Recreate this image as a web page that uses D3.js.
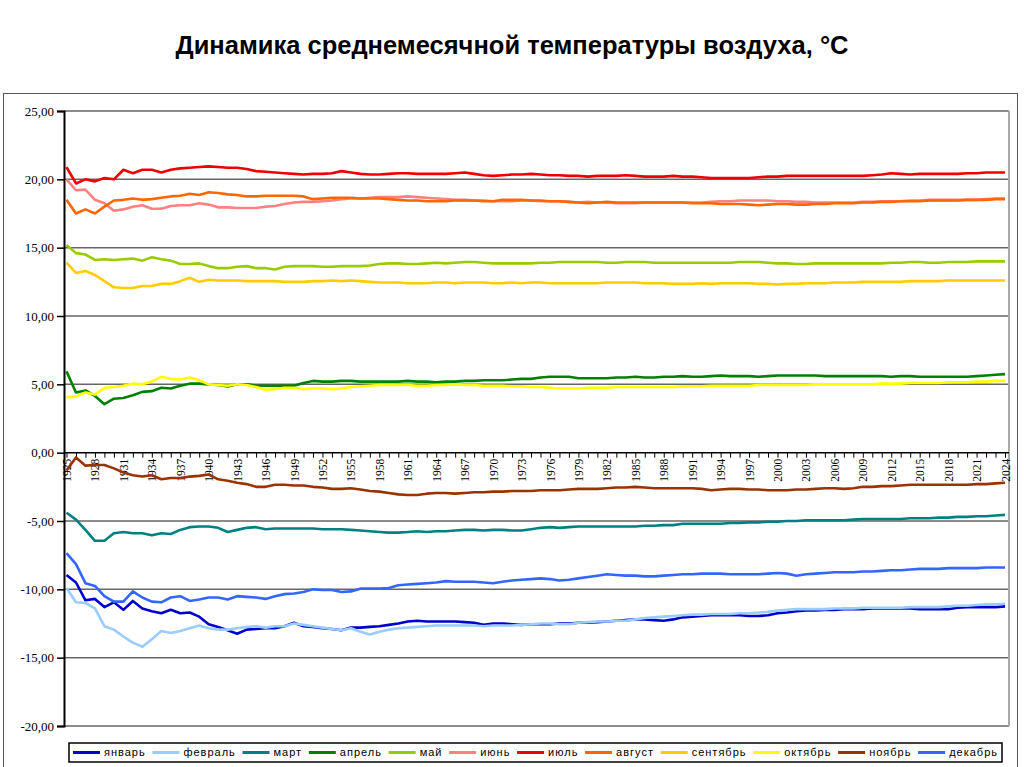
<!DOCTYPE html>
<html>
<head>
<meta charset="utf-8">
<script src="https://cdn.jsdelivr.net/npm/d3@7"></script>
<style>
  body { margin: 0; background: #fff; }
  svg { display: block; }
</style>
</head>
<body>
<div id="chart"></div>
<script>
let w = 1024;
let h = 767;

// years 1925..2024
let years = d3.range(1925, 2025);

let months = ["январь", "февраль", "март", "апрель", "май", "июнь", "июль", "август", "сентябрь", "октябрь", "ноябрь", "декабрь"];
let colors = ["#0000cc", "#99ccff", "#008080", "#008000", "#99cc00", "#ff8080", "#ee0000", "#ff6600", "#ffcc00", "#ffff00", "#993300", "#3366ff"];

let yTicks = [25, 20, 15, 10, 5, 0, -5, -10, -15, -20];

let jan = [
  -8.95, -9.5, -10.8, -10.7, -11.3, -10.95, -11.5, -10.85, -11.4, -11.6,
  -11.75, -11.5, -11.75, -11.7, -12.0, -12.55, -12.75, -13.0, -13.25, -12.95,
  -12.9, -12.85, -12.85, -12.7, -12.45, -12.7, -12.75, -12.85, -12.9, -13.0,
  -12.8, -12.8, -12.75, -12.7, -12.6, -12.5, -12.35, -12.3, -12.35, -12.35,
  -12.35, -12.35, -12.4, -12.45, -12.6, -12.5, -12.5, -12.55, -12.6, -12.55,
  -12.55, -12.55, -12.5, -12.5, -12.45, -12.45, -12.4, -12.35, -12.3, -12.25,
  -12.2, -12.2, -12.25, -12.3, -12.2, -12.05, -12.0, -11.95, -11.9, -11.9,
  -11.9, -11.9, -11.95, -11.95, -11.9, -11.75, -11.7, -11.6, -11.55, -11.55,
  -11.5, -11.5, -11.45, -11.45, -11.45, -11.4, -11.4, -11.4, -11.4, -11.4,
  -11.45, -11.45, -11.45, -11.45, -11.35, -11.3, -11.3, -11.3, -11.3, -11.25
];
let feb = [
  -9.9, -10.95, -11.0, -11.4, -12.7, -12.95, -13.45, -13.9, -14.2, -13.65,
  -13.05, -13.2, -13.05, -12.85, -12.65, -12.85, -12.95, -12.95, -12.85, -12.75,
  -12.7, -12.8, -12.7, -12.7, -12.5, -12.6, -12.7, -12.8, -12.9, -13.0,
  -12.85, -13.1, -13.3, -13.1, -12.95, -12.85, -12.8, -12.75, -12.7, -12.65,
  -12.65, -12.65, -12.65, -12.65, -12.7, -12.65, -12.65, -12.65, -12.6, -12.55,
  -12.5, -12.5, -12.55, -12.55, -12.45, -12.4, -12.35, -12.35, -12.3, -12.3,
  -12.2, -12.1, -12.05, -12.0, -11.95, -11.9, -11.85, -11.85, -11.8, -11.8,
  -11.8, -11.75, -11.75, -11.7, -11.65, -11.55, -11.5, -11.45, -11.45, -11.45,
  -11.45, -11.4, -11.4, -11.4, -11.35, -11.35, -11.35, -11.35, -11.35, -11.3,
  -11.3, -11.3, -11.3, -11.25, -11.2, -11.2, -11.15, -11.1, -11.1, -11.05
];
let mar = [
  -4.4, -4.9, -5.65, -6.45, -6.45, -5.9, -5.8, -5.9, -5.9, -6.05,
  -5.9, -5.95, -5.65, -5.45, -5.4, -5.4, -5.5, -5.8, -5.65, -5.5,
  -5.45, -5.6, -5.55, -5.55, -5.55, -5.55, -5.55, -5.6, -5.6, -5.6,
  -5.65, -5.7, -5.75, -5.8, -5.85, -5.85, -5.8, -5.75, -5.8, -5.75,
  -5.75, -5.7, -5.65, -5.65, -5.7, -5.65, -5.65, -5.7, -5.7, -5.6,
  -5.5, -5.45, -5.5, -5.45, -5.4, -5.4, -5.4, -5.4, -5.4, -5.4,
  -5.4, -5.35, -5.35, -5.3, -5.3, -5.2, -5.2, -5.2, -5.2, -5.2,
  -5.15, -5.15, -5.1, -5.1, -5.05, -5.05, -5.0, -5.0, -4.95, -4.95,
  -4.95, -4.95, -4.95, -4.9, -4.85, -4.85, -4.85, -4.85, -4.85, -4.8,
  -4.8, -4.8, -4.75, -4.75, -4.7, -4.7, -4.65, -4.65, -4.6, -4.55
];
let apr = [
  5.95, 4.4, 4.55, 4.15, 3.55, 3.95, 4.0, 4.2, 4.45, 4.5,
  4.75, 4.7, 4.9, 5.05, 5.05, 5.0, 4.95, 4.85, 5.0, 5.0,
  4.9, 4.9, 4.9, 4.9, 4.9, 5.1, 5.25, 5.2, 5.2, 5.25,
  5.25, 5.2, 5.2, 5.2, 5.2, 5.2, 5.25, 5.2, 5.2, 5.15,
  5.2, 5.2, 5.25, 5.25, 5.3, 5.3, 5.3, 5.35, 5.4, 5.4,
  5.5, 5.55, 5.55, 5.55, 5.45, 5.45, 5.45, 5.45, 5.5, 5.5,
  5.55, 5.5, 5.5, 5.55, 5.55, 5.6, 5.55, 5.55, 5.6, 5.65,
  5.6, 5.6, 5.6, 5.55, 5.6, 5.65, 5.65, 5.65, 5.65, 5.65,
  5.6, 5.6, 5.6, 5.6, 5.6, 5.6, 5.6, 5.55, 5.6, 5.6,
  5.55, 5.55, 5.55, 5.55, 5.55, 5.55, 5.6, 5.65, 5.7, 5.75
];
let may = [
  15.2, 14.6, 14.5, 14.1, 14.15, 14.1, 14.15, 14.2, 14.05, 14.3,
  14.15, 14.05, 13.8, 13.8, 13.85, 13.65, 13.5, 13.5, 13.6, 13.65,
  13.5, 13.5, 13.4, 13.6, 13.65, 13.65, 13.65, 13.6, 13.6, 13.65,
  13.65, 13.65, 13.7, 13.8, 13.85, 13.85, 13.8, 13.8, 13.85, 13.9,
  13.85, 13.9, 13.95, 13.95, 13.9, 13.85, 13.85, 13.85, 13.85, 13.85,
  13.9, 13.9, 13.95, 13.95, 13.95, 13.95, 13.95, 13.9, 13.9, 13.95,
  13.95, 13.95, 13.9, 13.9, 13.9, 13.9, 13.9, 13.9, 13.9, 13.9,
  13.9, 13.95, 13.95, 13.95, 13.9, 13.85, 13.85, 13.8, 13.8, 13.85,
  13.85, 13.85, 13.85, 13.85, 13.85, 13.85, 13.85, 13.9, 13.9, 13.95,
  13.95, 13.9, 13.9, 13.95, 13.95, 13.95, 14.0, 14.0, 14.0, 14.0
];
let jun = [
  20.0, 19.2, 19.25, 18.5, 18.25, 17.7, 17.8, 18.0, 18.1, 17.85,
  17.85, 18.05, 18.1, 18.1, 18.25, 18.15, 17.95, 17.95, 17.9, 17.9,
  17.9, 18.0, 18.05, 18.2, 18.3, 18.35, 18.35, 18.4, 18.45, 18.55,
  18.6, 18.6, 18.65, 18.7, 18.7, 18.7, 18.75, 18.7, 18.65, 18.6,
  18.55, 18.5, 18.5, 18.45, 18.45, 18.4, 18.4, 18.4, 18.45, 18.45,
  18.4, 18.4, 18.4, 18.35, 18.3, 18.35, 18.3, 18.3, 18.25, 18.25,
  18.25, 18.3, 18.3, 18.3, 18.3, 18.3, 18.3, 18.3, 18.35, 18.4,
  18.4, 18.45, 18.45, 18.45, 18.45, 18.4, 18.4, 18.35, 18.35, 18.3,
  18.3, 18.3, 18.3, 18.3, 18.35, 18.35, 18.4, 18.4, 18.4, 18.45,
  18.45, 18.5, 18.5, 18.5, 18.5, 18.5, 18.5, 18.55, 18.6, 18.6
];
let jul = [
  20.9, 19.7, 20.0, 19.85, 20.1, 20.0, 20.7, 20.45, 20.7, 20.7,
  20.5, 20.7, 20.8, 20.85, 20.9, 20.95, 20.9, 20.85, 20.85, 20.75,
  20.6, 20.55, 20.5, 20.45, 20.4, 20.35, 20.4, 20.4, 20.45, 20.6,
  20.5, 20.4, 20.35, 20.35, 20.4, 20.45, 20.45, 20.4, 20.4, 20.4,
  20.4, 20.45, 20.5, 20.4, 20.3, 20.25, 20.3, 20.35, 20.35, 20.4,
  20.35, 20.3, 20.3, 20.25, 20.25, 20.2, 20.25, 20.25, 20.25, 20.3,
  20.25, 20.2, 20.2, 20.2, 20.25, 20.2, 20.2, 20.15, 20.1, 20.1,
  20.1, 20.1, 20.1, 20.15, 20.2, 20.2, 20.25, 20.25, 20.25, 20.25,
  20.25, 20.25, 20.25, 20.25, 20.25, 20.3, 20.35, 20.45, 20.4, 20.35,
  20.4, 20.4, 20.4, 20.4, 20.4, 20.45, 20.45, 20.5, 20.5, 20.5
];
let aug = [
  18.5, 17.5, 17.8, 17.5, 18.0, 18.45, 18.5, 18.6, 18.5, 18.55,
  18.65, 18.75, 18.8, 18.95, 18.85, 19.05, 19.0, 18.9, 18.85, 18.75,
  18.75, 18.8, 18.8, 18.8, 18.8, 18.75, 18.55, 18.6, 18.65, 18.65,
  18.65, 18.6, 18.6, 18.6, 18.55, 18.5, 18.45, 18.45, 18.4, 18.4,
  18.4, 18.45, 18.45, 18.45, 18.4, 18.4, 18.5, 18.5, 18.5, 18.45,
  18.45, 18.4, 18.4, 18.35, 18.3, 18.25, 18.3, 18.35, 18.3, 18.3,
  18.3, 18.3, 18.3, 18.3, 18.3, 18.3, 18.25, 18.25, 18.25, 18.2,
  18.2, 18.2, 18.15, 18.1, 18.15, 18.2, 18.2, 18.15, 18.15, 18.2,
  18.2, 18.25, 18.25, 18.25, 18.3, 18.3, 18.35, 18.35, 18.4, 18.4,
  18.4, 18.45, 18.45, 18.45, 18.45, 18.5, 18.5, 18.5, 18.55, 18.55
];
let sep = [
  13.9, 13.15, 13.3, 13.0, 12.55, 12.1, 12.05, 12.05, 12.2, 12.2,
  12.35, 12.35, 12.55, 12.8, 12.5, 12.65, 12.6, 12.6, 12.6, 12.55,
  12.55, 12.55, 12.55, 12.5, 12.5, 12.5, 12.55, 12.55, 12.6, 12.55,
  12.6, 12.55, 12.5, 12.45, 12.45, 12.45, 12.4, 12.4, 12.4, 12.45,
  12.45, 12.4, 12.45, 12.45, 12.45, 12.4, 12.4, 12.45, 12.4, 12.45,
  12.45, 12.4, 12.4, 12.4, 12.4, 12.4, 12.4, 12.45, 12.45, 12.45,
  12.45, 12.4, 12.4, 12.4, 12.35, 12.35, 12.35, 12.4, 12.35, 12.4,
  12.4, 12.4, 12.4, 12.35, 12.35, 12.3, 12.35, 12.35, 12.4, 12.4,
  12.4, 12.45, 12.45, 12.45, 12.5, 12.5, 12.5, 12.5, 12.5, 12.55,
  12.55, 12.55, 12.55, 12.6, 12.6, 12.6, 12.6, 12.6, 12.6, 12.6
];
let oct = [
  4.05, 4.1, 4.4, 4.25, 4.75, 4.8, 4.9, 5.05, 5.0, 5.2,
  5.55, 5.4, 5.35, 5.5, 5.3, 5.0, 4.95, 4.9, 5.0, 4.95,
  4.8, 4.6, 4.65, 4.75, 4.75, 4.65, 4.7, 4.7, 4.65, 4.7,
  4.8, 4.85, 4.9, 4.95, 4.95, 4.95, 4.95, 4.9, 4.9, 4.95,
  4.95, 5.0, 4.95, 4.95, 4.9, 4.9, 4.9, 4.85, 4.85, 4.8,
  4.8, 4.75, 4.7, 4.7, 4.7, 4.75, 4.75, 4.75, 4.8, 4.8,
  4.8, 4.8, 4.8, 4.8, 4.8, 4.85, 4.85, 4.85, 4.9, 4.9,
  4.9, 4.9, 4.9, 4.95, 4.95, 4.95, 4.95, 4.95, 4.95, 5.0,
  5.0, 5.0, 5.0, 5.0, 5.0, 5.0, 5.05, 5.05, 5.05, 5.1,
  5.1, 5.1, 5.1, 5.15, 5.15, 5.15, 5.2, 5.2, 5.25, 5.25
];
let nov = [
  -1.3, -0.35, -0.95, -0.9, -0.9, -1.15, -1.45, -1.65, -1.75, -1.65,
  -1.95, -1.85, -1.85, -1.75, -1.7, -1.6, -1.95, -2.05, -2.2, -2.3,
  -2.5, -2.5, -2.35, -2.35, -2.4, -2.4, -2.5, -2.55, -2.65, -2.65,
  -2.6, -2.7, -2.8, -2.85, -2.95, -3.05, -3.1, -3.1, -3.0, -2.95,
  -2.95, -3.0, -2.95, -2.9, -2.9, -2.85, -2.85, -2.8, -2.8, -2.8,
  -2.75, -2.75, -2.75, -2.7, -2.65, -2.65, -2.65, -2.6, -2.55, -2.55,
  -2.5, -2.55, -2.6, -2.6, -2.6, -2.6, -2.6, -2.65, -2.75, -2.7,
  -2.65, -2.65, -2.7, -2.7, -2.75, -2.75, -2.75, -2.7, -2.7, -2.65,
  -2.6, -2.6, -2.65, -2.6, -2.5, -2.5, -2.45, -2.45, -2.4, -2.35,
  -2.35, -2.35, -2.35, -2.35, -2.35, -2.35, -2.3, -2.3, -2.25, -2.2
];
let dec = [
  -7.35, -8.15, -9.55, -9.75, -10.5, -10.9, -10.9, -10.15, -10.6, -10.9,
  -10.95, -10.6, -10.5, -10.85, -10.75, -10.6, -10.6, -10.75, -10.5, -10.55,
  -10.6, -10.7, -10.5, -10.35, -10.3, -10.2, -10.0, -10.05, -10.05, -10.2,
  -10.15, -9.95, -9.95, -9.95, -9.9, -9.7, -9.65, -9.6, -9.55, -9.5,
  -9.4, -9.45, -9.45, -9.45, -9.5, -9.55, -9.45, -9.35, -9.3, -9.25,
  -9.2, -9.25, -9.35, -9.3, -9.2, -9.1, -9.0, -8.9, -8.95, -9.0,
  -9.0, -9.05, -9.05, -9.0, -8.95, -8.9, -8.9, -8.85, -8.85, -8.85,
  -8.9, -8.9, -8.9, -8.9, -8.85, -8.8, -8.85, -9.0, -8.9, -8.85,
  -8.8, -8.75, -8.75, -8.75, -8.7, -8.7, -8.65, -8.6, -8.6, -8.55,
  -8.5, -8.5, -8.5, -8.45, -8.45, -8.45, -8.45, -8.4, -8.4, -8.4
];

let series = [jan, feb, mar, apr, may, jun, jul, aug, sep, oct, nov, dec];

let svg = d3.select("#chart")
  .append("svg")
  .attr("width", w)
  .attr("height", h)
  .style("background-color", "white");

// title
svg.append("text")
  .attr("x", 512)
  .attr("y", 54)
  .attr("text-anchor", "middle")
  .style("font-family", "'Liberation Sans', Arial, sans-serif")
  .style("font-weight", "bold")
  .style("font-size", "25.5px")
  .text("Динамика среднемесячной температуры воздуха, °C");

// outer chart frame
svg.append("rect")
  .attr("x", 3.5).attr("y", 93.5)
  .attr("width", 1014).attr("height", 680)
  .attr("fill", "none")
  .attr("stroke", "#555")
  .attr("stroke-width", 1);

let plotLeft = 64, plotRight = 1009;

let xScale = d3.scaleLinear().domain([1925, 2024]).range([66.5, 1005]);
let yScale = d3.scaleLinear().domain([-20, 25]).range([726, 111]);

// horizontal gridlines
svg.selectAll(".grid").data(yTicks).enter()
  .append("line")
  .attr("class", "grid")
  .attr("x1", plotLeft).attr("x2", plotRight)
  .attr("y1", d => yScale(d)).attr("y2", d => yScale(d))
  .attr("stroke", d => d == 0 ? "none" : "#666")
  .attr("stroke-width", 1.5);

// plot area right border
svg.append("line")
  .attr("x1", plotRight).attr("x2", plotRight)
  .attr("y1", yScale(25)).attr("y2", yScale(-20))
  .attr("stroke", "#aaa").attr("stroke-width", 2);

// y axis
let yAxis = d3.axisLeft(yScale)
  .tickValues(yTicks)
  .tickSize(7)
  .tickFormat(d => d3.format(".2f")(d).replace(".", ",").replace("−", "-"));

let yg = svg.append("g")
  .attr("transform", "translate(" + plotLeft + ",0)")
  .call(yAxis);
yg.select(".domain").attr("stroke", "#000").attr("stroke-width", 2);
yg.selectAll(".tick line").attr("stroke", "#000").attr("stroke-width", 1.5);
yg.selectAll("text")
  .attr("x", -10)
  .style("font-family", "'Liberation Serif', 'Times New Roman', serif")
  .style("font-size", "13px")
  .attr("fill", "#000");

// x axis at zero
let xAxis = d3.axisBottom(xScale)
  .tickValues(years)
  .tickSize(5)
  .tickSizeOuter(0)
  .tickFormat(d => (d - 1925) % 3 == 0 ? d : "");

let xg = svg.append("g")
  .attr("transform", "translate(0," + yScale(0) + ")")
  .call(xAxis);
xg.select(".domain")
  .attr("d", "M" + plotLeft + ",0H" + plotRight)
  .attr("stroke", "#000").attr("stroke-width", 1.5);
xg.selectAll(".tick line").attr("stroke", "#000").attr("stroke-width", 1);
xg.selectAll("text")
  .attr("transform", "rotate(-90)")
  .attr("text-anchor", "end")
  .attr("x", -6)
  .attr("y", 0)
  .attr("dy", "0.35em")
  .style("font-family", "'Liberation Serif', 'Times New Roman', serif")
  .style("font-size", "11.5px")
  .attr("fill", "#000");

// lines
let line = d3.line()
  .x((d, i) => xScale(years[i]))
  .y(d => yScale(d));

svg.selectAll(".series").data(series).enter()
  .append("path")
  .attr("class", "series")
  .attr("d", d => line(d))
  .attr("fill", "none")
  .attr("stroke", (d, i) => colors[i])
  .attr("stroke-width", 2.6)
  .attr("stroke-linejoin", "round");

// legend
let legX = 69, legY = 743, legW = 933, legH = 19;
svg.append("rect")
  .attr("x", legX).attr("y", legY)
  .attr("width", legW).attr("height", legH)
  .attr("fill", "white")
  .attr("stroke", "#000")
  .attr("stroke-width", 1.5);

let leg = svg.append("g");
let items = leg.selectAll(".leg").data(months).enter()
  .append("g").attr("class", "leg");

items.append("text")
  .attr("y", legY + legH / 2)
  .attr("dy", "0.35em")
  .style("font-family", "'Liberation Sans', Arial, sans-serif")
  .style("font-size", "11px")
  .style("letter-spacing", "1px")
  .attr("fill", "#000")
  .text(d => d);

let lineLen = 27, gapIn = 4;
let widths = [];
items.select("text").each(function(){ widths.push(this.getComputedTextLength()); });
let totalItems = d3.sum(widths) + months.length * (lineLen + gapIn);
let gapOut = (legW - 8 - totalItems) / (months.length - 1);

let cx = legX + 4;
items.each(function(d, i){
  let g = d3.select(this);
  g.append("line")
    .attr("x1", cx).attr("x2", cx + lineLen)
    .attr("y1", legY + legH / 2).attr("y2", legY + legH / 2)
    .attr("stroke", colors[i])
    .attr("stroke-width", 3);
  g.select("text").attr("x", cx + lineLen + gapIn);
  cx += lineLen + gapIn + widths[i] + gapOut;
});
</script>
</body>
</html>
